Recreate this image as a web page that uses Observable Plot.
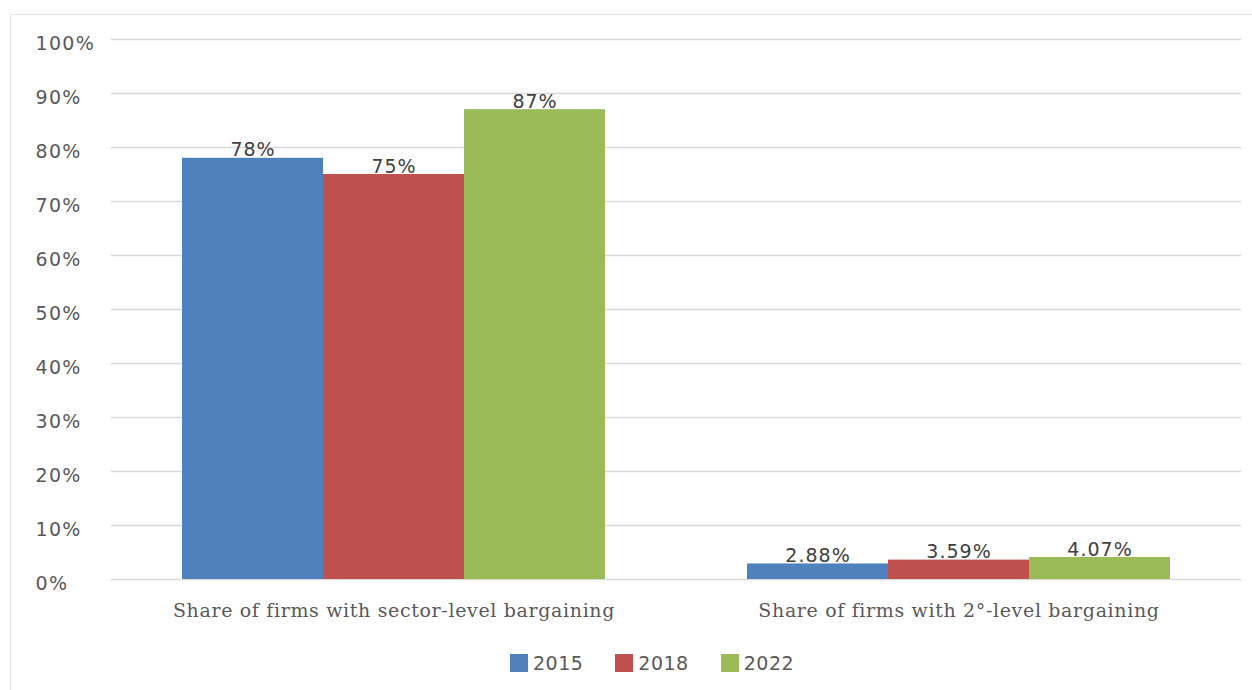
<!DOCTYPE html>
<html>
<head>
<meta charset="utf-8">
<script src="https://cdn.jsdelivr.net/npm/d3@7"></script>
<script src="https://cdn.jsdelivr.net/npm/@observablehq/plot@0.6"></script>
<style>
  html, body { margin: 0; padding: 0; background: #fff; }
  #wrap { position: relative; width: 1252px; height: 690px; overflow: hidden; }
  #frame {
    position: absolute; left: 10px; top: 14px; width: 1300px; height: 700px;
    border-left: 1.5px solid #e3e3e3; border-top: 1.5px solid #e3e3e3;
  }
  #chart { position: absolute; left: 0; top: 0; }
  #chart g[aria-label="fx-axis tick label"] text { letter-spacing: 0.65px; }
  #chart g[aria-label="y-axis tick label"] text { letter-spacing: 1.3px; }
  #chart g[aria-label="text"] text { letter-spacing: 1px; }
  #legend {
    position: absolute; left: 510px; top: 652px;
    display: flex; gap: 32px;
    font-family: "DejaVu Sans", sans-serif; font-size: 19px; color: #595959;
    letter-spacing: 0.5px;
  }
  #legend .item { display: flex; align-items: center; gap: 5px; }
  #legend .sw { width: 18px; height: 18px; display: inline-block; }
</style>
</head>
<body>
<div id="wrap">
  <div id="frame"></div>
  <div id="chart"></div>
  <div id="legend"></div>
</div>
<script>
// Categories, years and shares (in percent)
const categories = [
  "Share of firms with sector-level bargaining",
  "Share of firms with 2°-level bargaining"
];
const years = ["2015", "2018", "2022"];
const sectorLevel = [78, 75, 87];
const secondLevel = [2.88, 3.59, 4.07];
const labelDecimals = [0, 2];
const yTicks = [0, 10, 20, 30, 40, 50, 60, 70, 80, 90, 100];
const colors = ["#4F81BD", "#C0504D", "#9BBB59"];

const seriesByCategory = [sectorLevel, secondLevel];
const rows = [];
categories.forEach((cat, ci) => {
  years.forEach((yr, yi) => {
    rows.push({category: cat, year: yr, value: seriesByCategory[ci][yi], decimals: labelDecimals[ci]});
  });
});

const tickFont = "DejaVu Sans, sans-serif";

const chart = Plot.plot({
  width: 1252,
  height: 630,
  marginLeft: 110,
  marginRight: 11,
  marginTop: 39,
  marginBottom: 51,
  style: {background: "transparent", overflow: "visible"},
  fx: {domain: categories, paddingInner: 0, paddingOuter: 0, label: null},
  x: {domain: years, paddingInner: 0, paddingOuter: 0.5, axis: null},
  y: {domain: [0, 100], label: null},
  color: {domain: years, range: colors},
  marks: [
    Plot.gridY(yTicks, {stroke: "#d9d9d9", strokeOpacity: 1, strokeWidth: 1.6}),
    Plot.axisY(yTicks, {
      tickSize: 0, tickPadding: 76, textAnchor: "start", dy: 4,
      tickFormat: d => d + "%", fontSize: 19, fontFamily: tickFont,
      fill: "#595959", label: null
    }),
    Plot.axisFx({
      anchor: "bottom", tickSize: 0, tickPadding: 24, label: null,
      fontSize: 19, fontFamily: "DejaVu Serif, serif", fill: "#595959"
    }),
    Plot.barY(rows, {fx: "category", x: "year", y: "value", fill: "year", inset: 0}),
    Plot.text(rows, {
      fx: "category", x: "year", y: "value",
      text: d => d.value.toFixed(d.decimals) + "%",
      lineAnchor: "bottom", dy: -2,
      fontSize: 19, fontFamily: tickFont, fill: "#404040"
    })
  ]
});
document.getElementById("chart").appendChild(chart);

// Legend below the plot
const legend = document.getElementById("legend");
years.forEach((yr, i) => {
  const item = document.createElement("div");
  item.className = "item";
  const sw = document.createElement("span");
  sw.className = "sw";
  sw.style.background = colors[i];
  const lab = document.createElement("span");
  lab.textContent = yr;
  item.appendChild(sw);
  item.appendChild(lab);
  legend.appendChild(item);
});
</script>
</body>
</html>
